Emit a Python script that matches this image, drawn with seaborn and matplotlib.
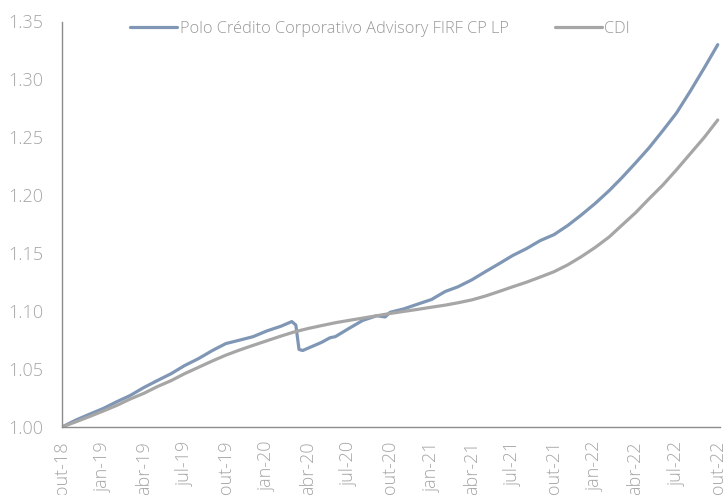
import pandas as pd
import matplotlib
matplotlib.use('Agg')
import matplotlib.pyplot as plt
import seaborn as sns

# fund series (extra points around the march 2020 drop)
fund_dates = ['2018-10-01', '2018-11-01', '2018-12-01', '2019-01-01', '2019-02-01', '2019-03-01',
              '2019-04-01', '2019-05-01', '2019-06-01', '2019-07-01', '2019-08-01', '2019-09-01',
              '2019-10-01', '2019-11-01', '2019-12-01', '2020-01-01', '2020-02-01', '2020-02-25',
              '2020-03-05', '2020-03-12', '2020-03-20', '2020-04-01', '2020-05-01', '2020-05-20',
              '2020-06-01', '2020-07-01', '2020-08-01', '2020-09-01', '2020-09-20', '2020-10-01',
              '2020-11-01', '2020-12-01', '2021-01-01', '2021-02-01', '2021-03-01', '2021-04-01',
              '2021-05-01', '2021-06-01', '2021-07-01', '2021-08-01', '2021-09-01', '2021-10-01',
              '2021-11-01', '2021-12-01', '2022-01-01', '2022-02-01', '2022-03-01', '2022-04-01',
              '2022-05-01', '2022-06-01', '2022-07-01', '2022-08-01', '2022-09-01', '2022-10-01']
fund_values = [1.000, 1.006, 1.011, 1.016, 1.022, 1.027,
               1.034, 1.040, 1.046, 1.053, 1.059, 1.066,
               1.072, 1.075, 1.078, 1.083, 1.087, 1.091,
               1.088, 1.067, 1.066, 1.068, 1.073, 1.077,
               1.078, 1.085, 1.092, 1.096, 1.095, 1.099,
               1.102, 1.106, 1.110, 1.117, 1.121, 1.127,
               1.134, 1.141, 1.148, 1.154, 1.161, 1.166,
               1.174, 1.183, 1.193, 1.204, 1.215, 1.228,
               1.241, 1.256, 1.271, 1.290, 1.310, 1.330]

# CDI monthly
cdi_dates = pd.date_range('2018-10-01', '2022-10-01', freq='MS')
cdi_values = [1.000, 1.0045, 1.009, 1.0138, 1.0188, 1.024, 1.029, 1.0348, 1.040, 1.046,
              1.0515, 1.057, 1.062, 1.0665, 1.0705, 1.0745, 1.0785, 1.082, 1.085, 1.0875,
              1.090, 1.092, 1.094, 1.096, 1.098, 1.0998, 1.1015, 1.1034, 1.1052, 1.1072,
              1.1097, 1.113, 1.117, 1.121, 1.125, 1.1295, 1.134, 1.140, 1.147, 1.155,
              1.164, 1.174, 1.185, 1.197, 1.209, 1.222, 1.236, 1.250, 1.265]

fund_name = 'Polo Crédito Corporativo Advisory FIRF CP LP'
tick_dates = pd.date_range('2018-10-01', '2022-10-01', freq='QS-OCT')
month_pt = {1: 'jan', 4: 'abr', 7: 'jul', 10: 'out'}
tick_labels = [f'{month_pt[d.month]}-{d.strftime("%y")}' for d in tick_dates]

df_fund = pd.DataFrame({'date': pd.to_datetime(fund_dates), 'value': fund_values})
df_cdi = pd.DataFrame({'date': cdi_dates, 'value': cdi_values})

sns.set_style('white')
plt.rcParams['font.family'] = ['Open Sans', 'DejaVu Sans']
plt.rcParams['font.weight'] = 'light'

fig = plt.figure(figsize=(7.26, 4.95), dpi=100)
ax = fig.add_axes([62 / 726, 68 / 495, 658 / 726, 405.5 / 495])

sns.lineplot(data=df_fund, x='date', y='value', ax=ax, color='#7f96b5', linewidth=2.3, label=fund_name)
sns.lineplot(data=df_cdi, x='date', y='value', ax=ax, color='#a6a6a6', linewidth=2.3, label='CDI')

ax.set_ylim(1.0, 1.35)
ax.set_yticks([1.00, 1.05, 1.10, 1.15, 1.20, 1.25, 1.30, 1.35])
ax.set_yticklabels([f'{v:.2f}' for v in ax.get_yticks()])
ax.set_xlim(pd.Timestamp('2018-10-01'), pd.Timestamp('2022-10-06'))
ax.set_xticks(tick_dates)
ax.set_xticklabels(tick_labels, rotation=90)
ax.set_xlabel('')
ax.set_ylabel('')

for side in ['top', 'right']:
    ax.spines[side].set_visible(False)
for side in ['left', 'bottom']:
    ax.spines[side].set_color('#8c8c8c')
    ax.spines[side].set_linewidth(1.0)
ax.tick_params(axis='both', which='major', direction='out', length=5, width=1.0,
               color='#8c8c8c', labelcolor='#a6a6a6', labelsize=13)
ax.tick_params(axis='x', pad=5)
ax.tick_params(axis='y', pad=8.5)

ax.get_legend().remove()
handles, labels = ax.get_legend_handles_labels()
leg = fig.legend(handles, labels, loc='center', bbox_to_anchor=(380 / 726, 1 - 29 / 495), ncol=2,
                 frameon=False, fontsize=11.8, handlelength=2.9, handletextpad=0.15, columnspacing=2.8)
for t in leg.get_texts():
    t.set_color('#999999')

fig.savefig('out.png', dpi=100)
